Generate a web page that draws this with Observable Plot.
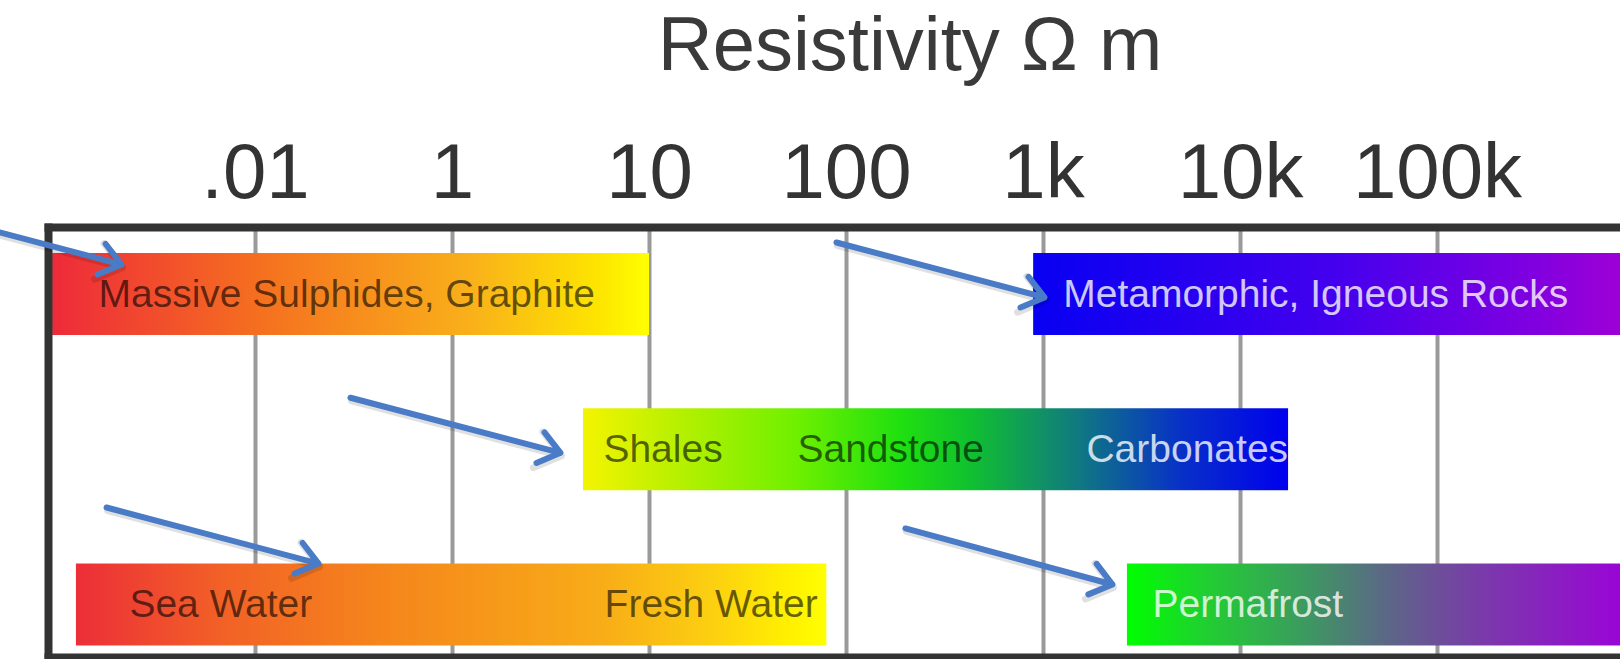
<!DOCTYPE html>
<html><head><meta charset="utf-8">
<script src="https://cdn.jsdelivr.net/npm/d3@7"></script>
<script src="https://cdn.jsdelivr.net/npm/@observablehq/plot@0.6"></script>
<style>
html,body{margin:0;padding:0;background:#fff;overflow:hidden;}
#title{position:relative;width:1620px;height:100px;font-family:"Liberation Sans",Arial,Helvetica,sans-serif;color:#3a3a3a;}
#title span{position:absolute;left:910px;top:6px;transform:translateX(-50%);font-size:76px;line-height:1;white-space:nowrap;}
</style></head><body>
<div id="title"><span>Resistivity Ω m</span></div>
<div id="chart"></div>
<script>
// Tick labels of the resistivity axis (one decade slot each)
const tickLabels = [".01", "1", "10", "100", "1k", "10k", "100k"];

// Bars (positions in axis-slot units, row index 0 = top)
const barNames = ["Massive Sulphides, Graphite", "Metamorphic, Igneous Rocks", "Shales–Carbonates", "Sea Water–Fresh Water", "Permafrost"];
const barFrom  = [-1.03, 3.95, 1.665, -0.909, 4.426];
const barTo    = [2.0, 7.0, 5.244, 2.9, 7.0];
const barRow   = [0, 0, 1, 2, 2];

// Labels inside the bars
const labelText = ["Massive Sulphides, Graphite", "Metamorphic, Igneous Rocks", "Shales", "Sandstone", "Carbonates", "Sea Water", "Fresh Water", "Permafrost"];
const labelX    = [-0.797, 4.10, 1.766, 2.751, 4.218, -0.64, 1.772, 4.553];
const labelRow  = [0, 0, 1, 1, 1, 2, 2, 2];

// Arrows pointing at the bars
const arrowX1 = [-1.294, 2.949, 0.482, -0.756, 3.299];
const arrowY1 = [-0.399, -0.335, 0.665, 1.372, 1.507];
const arrowX2 = [-0.680, 4.005, 1.548, 0.320, 4.350];
const arrowY2 = [-0.193, 0.019, 1.02, 1.733, 1.868];

// ---- styles ----
const gradients = [
  [[0, "#ee2a3a"], [0.35, "#f5701f"], [0.7, "#f9b01a"], [0.92, "#fde600"], [1, "#ffff00"]],
  [[0, "#0800f2"], [0.5, "#4400ee"], [0.8, "#7a00e2"], [1, "#a200d4"]],
  [[0, "#f4f400"], [0.15, "#b0f000"], [0.3, "#70f000"], [0.45, "#20e010"], [0.55, "#10c030"], [0.7, "#107a80"], [0.85, "#0830c8"], [1, "#0000ee"]],
  [[0, "#ec2e38"], [0.2, "#f26226"], [0.4, "#f5841c"], [0.7, "#f8ac18"], [0.85, "#fcd010"], [0.95, "#fff000"], [1, "#ffff00"]],
  [[0, "#00ff00"], [0.15, "#20d030"], [0.35, "#3c9a60"], [0.5, "#5a6a84"], [0.7, "#7a3aaa"], [1, "#9c00da"]]
];
const lightLabels = new Set(["Metamorphic, Igneous Rocks", "Carbonates", "Permafrost"]);
const font = "'Liberation Sans', Arial, Helvetica, sans-serif";

const bars = barNames.map((name, i) => ({name, from: barFrom[i], to: barTo[i], row: barRow[i]}));
const labels = labelText.map((text, i) => ({text, x: labelX[i], row: labelRow[i]}));
const arrows = arrowX1.map((x1, i) => ({x1, y1: arrowY1[i], x2: arrowX2[i], y2: arrowY2[i]}));
const tickIdx = tickLabels.map((_, i) => i);
const half = 0.264;

const marks = [];
marks.push(Plot.ruleX(tickIdx, {x: d => d, stroke: "#9a9a9a", strokeWidth: 4}));
bars.forEach((b, i) => {
  marks.push(Plot.rect([b], {x1: "from", x2: "to", y1: d => d.row - half, y2: d => d.row + half, fill: `url(#grad${i})`}));
});
marks.push(Plot.text(labels.filter(d => !lightLabels.has(d.text)), {
  x: "x", y: "row", text: "text", textAnchor: "start", lineAnchor: "middle",
  fontSize: 39, fill: "#000", fillOpacity: 0.6
}));
marks.push(Plot.text(labels.filter(d => lightLabels.has(d.text)), {
  x: "x", y: "row", text: "text", textAnchor: "start", lineAnchor: "middle",
  fontSize: 39, fill: "#fff", fillOpacity: 0.78
}));
marks.push(Plot.frame({anchor: "top", stroke: "#333", strokeWidth: 8, strokeLinecap: "square"}));
marks.push(Plot.frame({anchor: "left", stroke: "#333", strokeWidth: 8, strokeLinecap: "square"}));
marks.push(Plot.frame({anchor: "bottom", stroke: "#333", strokeWidth: 8, strokeLinecap: "square"}));
marks.push(Plot.axisX(tickIdx, {
  anchor: "top", tickSize: 0, tickPadding: 30, label: null,
  tickFormat: i => tickLabels[i], fontSize: 78, fill: "#333"
}));
// soft shadow under the arrows
marks.push(Plot.arrow(arrows, {
  x1: "x1", y1: "y1", x2: "x2", y2: "y2", dx: 1, dy: 3,
  stroke: "#000", strokeOpacity: 0.12, strokeWidth: 7, headLength: 6.5, headAngle: 75
}));
marks.push(Plot.arrow(arrows, {
  x1: "x1", y1: "y1", x2: "x2", y2: "y2",
  stroke: "#4a7bc6", strokeWidth: 6, headLength: 6.5, headAngle: 75
}));

const chart = Plot.plot({
  width: 1620,
  height: 559,
  marginLeft: 48,
  marginRight: 0,
  marginTop: 127,
  marginBottom: 2,
  style: {fontFamily: font, color: "#333", background: "white", overflow: "hidden"},
  x: {domain: [0, 6], range: [255, 1437], axis: null},
  y: {domain: [0, 2], range: [194, 504.5], axis: null},
  marks
});

// gradient definitions
const ns = "http://www.w3.org/2000/svg";
const defs = document.createElementNS(ns, "defs");
gradients.forEach((stops, i) => {
  const g = document.createElementNS(ns, "linearGradient");
  g.setAttribute("id", `grad${i}`);
  g.setAttribute("x1", "0"); g.setAttribute("x2", "1");
  g.setAttribute("y1", "0"); g.setAttribute("y2", "0");
  stops.forEach(([o, c]) => {
    const s = document.createElementNS(ns, "stop");
    s.setAttribute("offset", o);
    s.setAttribute("stop-color", c);
    g.appendChild(s);
  });
  defs.appendChild(g);
});
chart.insertBefore(defs, chart.firstChild);
document.getElementById("chart").appendChild(chart);
</script>
</body></html>
